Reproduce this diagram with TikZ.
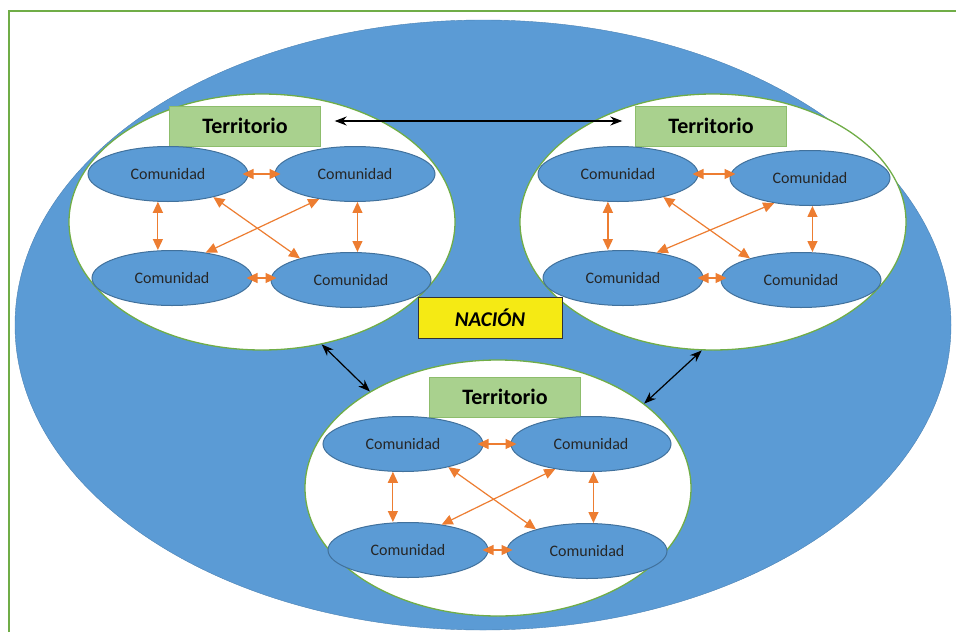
\documentclass[tikz,border=0pt]{standalone}
\usepackage{fontspec}
\setmainfont{Carlito}
\usetikzlibrary{positioning,shapes.geometric,arrows.meta}

\definecolor{azul}{HTML}{5B9BD5}
\definecolor{azulborde}{HTML}{41719C}
\definecolor{verde}{HTML}{70AD47}
\definecolor{verdeclaro}{HTML}{A9D18E}
\definecolor{naranja}{HTML}{ED7D31}
\definecolor{amarillo}{HTML}{F5EA14}

\begin{document}
\begin{tikzpicture}[
  x=1pt, y=-1pt,
  marco/.style={draw=verde, line width=1.5pt},
  fondo/.style={ellipse, fill=azul, draw=azulborde!60!azul, minimum width=936pt, minimum height=610pt, inner sep=0pt},
  zona/.style={ellipse, draw=verde, line width=1.3pt, fill=white, minimum width=386pt, minimum height=256pt, inner sep=0pt},
  comunidad/.style={ellipse, draw=azulborde, line width=1pt, fill=azul, minimum width=160pt, minimum height=55pt, inner sep=0pt, text=black!85, font=\fontsize{16}{19}\selectfont},
  territorio/.style={rectangle, draw=verde!80, fill=verdeclaro, minimum width=151pt, minimum height=40pt, inner sep=0pt, font=\bfseries\fontsize{22}{26}\selectfont},
  nacion/.style={rectangle, draw=black!80, fill=amarillo, minimum width=144pt, minimum height=41pt, inner sep=0pt, font=\bfseries\itshape\fontsize{21}{25}\selectfont},
  enlace/.style={<->, >={Triangle[length=11pt,width=10pt]}, draw=naranja, line width=1.2pt},
  cruce/.style={shorten <=-6pt, shorten >=-6pt},
  union/.style={<->, >={Stealth[length=12pt,width=9pt]}, draw=black, line width=1.2pt}
]

\useasboundingbox (0,0) rectangle (956,632);
\draw[marco] (9,632) -- (9,11) -- (956,11);

%Nodes
\node[fondo] (pais) at (483,325) {};

\node[zona] (zonaA) at (262,222) {};
\node[zona] (zonaB) at (713,222) {};
\node[zona] (zonaC) at (498,488) {};

\node[nacion] (nacion) at (490,318) {NACIÓN};

\node[territorio] (terA) at (245,126) {Territorio};
\node[territorio] (terB) at (711,126) {Territorio};
\node[territorio] (terC) at (505,397) {Territorio};

\node[comunidad] (a1) at (168,174) {Comunidad};
\node[comunidad] (a2) at (355,174) {Comunidad};
\node[comunidad] (a3) at (172,278) {Comunidad};
\node[comunidad] (a4) at (351,280) {Comunidad};

\node[comunidad] (b1) at (618,174) {Comunidad};
\node[comunidad] (b2) at (810,178) {Comunidad};
\node[comunidad] (b3) at (623,278) {Comunidad};
\node[comunidad] (b4) at (801,280) {Comunidad};

\node[comunidad] (c1) at (403,444) {Comunidad};
\node[comunidad] (c2) at (591,444) {Comunidad};
\node[comunidad] (c3) at (408,550) {Comunidad};
\node[comunidad] (c4) at (587,551) {Comunidad};

%Arrows
\draw[enlace, cruce] (a1.east) -- (a1.east -| a2.west);
\draw[enlace, cruce] (a3.east) -- (a3.east -| a4.west);
\draw[enlace] (a1.-110) -- (a1.-110 |- a3.north);
\draw[enlace] (a2.-85) -- (a2.-85 |- a4.north);
\draw[enlace] (a1.-27) -- (a4.157);
\draw[enlace] (a2.-145) -- (a3.37);

\draw[enlace, cruce] (b1.east) -- (b1.east -| b2.west);
\draw[enlace, cruce] (b3.east) -- (b3.east -| b4.west);
\draw[enlace] (b1.-110) -- (b1.-110 |- b3.north);
\draw[enlace] (b2.-85) -- (b2.-85 |- b4.north);
\draw[enlace] (b1.-27) -- (b4.157);
\draw[enlace] (b2.-145) -- (b3.37);

\draw[enlace, cruce] (c1.east) -- (c1.east -| c2.west);
\draw[enlace, cruce] (c3.east) -- (c3.east -| c4.west);
\draw[enlace] (c1.-110) -- (c1.-110 |- c3.north);
\draw[enlace] (c2.-85) -- (c2.-85 |- c4.north);
\draw[enlace] (c1.-27) -- (c4.157);
\draw[enlace] (c2.-145) -- (c3.37);

\draw[union, shorten <=14pt, shorten >=13pt] ([yshift=5pt]terA.east) -- ([yshift=5pt]terB.west);
\draw[union] (zonaA.-64) -- (zonaC.143);
\draw[union] (zonaB.-95) -- (zonaC.30);
\end{tikzpicture}
\end{document}
